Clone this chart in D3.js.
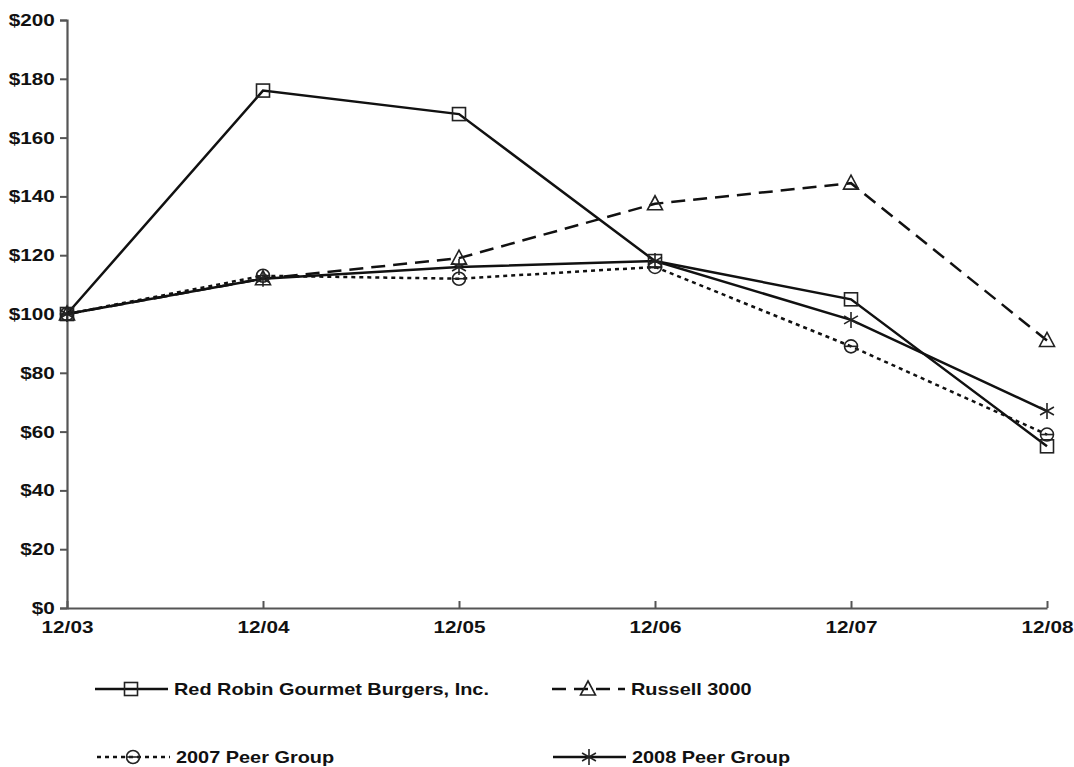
<!DOCTYPE html>
<html>
<head>
<meta charset="utf-8">
<script src="https://cdn.jsdelivr.net/npm/d3@7"></script>
<style>
  body { margin: 0; background: #fff; }
  svg text { font-family: "Liberation Sans", Arial, sans-serif; font-weight: bold; fill: #111; }
</style>
</head>
<body>
<svg id="chart"></svg>
<script>
const periods = ["12/03", "12/04", "12/05", "12/06", "12/07", "12/08"];
const redRobin = [100, 176, 168, 118, 105, 55];
const russell3000 = [100, 112, 119, 137.5, 144.5, 91];
const peer2007 = [100, 113, 112, 116, 89, 59];
const peer2008 = [100, 112, 116, 118, 98, 67];
const yTicks = [0, 20, 40, 60, 80, 100, 120, 140, 160, 180, 200];

const series = [
  { name: "Red Robin Gourmet Burgers, Inc.", values: redRobin, dash: null, marker: "square" },
  { name: "Russell 3000", values: russell3000, dash: "14,8", marker: "triangle" },
  { name: "2007 Peer Group", values: peer2007, dash: "4,4", marker: "circle" },
  { name: "2008 Peer Group", values: peer2008, dash: null, marker: "star" }
];

const W = 1074, H = 767;
const margin = { top: 20, right: 27, bottom: 159, left: 67 },
  width = W - margin.left - margin.right,
  height = H - margin.top - margin.bottom;

const svg = d3.select("#chart").attr("width", W).attr("height", H);
const g = svg.append("g").attr("transform", `translate(${margin.left},${margin.top})`);

const x = d3.scalePoint().domain(periods).range([0, width]);
const y = d3.scaleLinear().domain([0, 200]).range([height, 0]);

// y axis
const yAxis = g.append("g")
  .call(d3.axisLeft(y).tickValues(yTicks).tickFormat(d => "$" + d).tickSize(7).tickPadding(3));
yAxis.select(".domain").attr("stroke", "#555").attr("stroke-width", 2.2);
yAxis.selectAll(".tick line").attr("stroke", "#555").attr("stroke-width", 2);
yAxis.selectAll("text").style("font-size", "17px").attr("fill", "#111")
  .attr("transform", "scale(1.22,1)");

// x axis, ticks pointing inward
const xAxis = g.append("g")
  .attr("transform", `translate(0,${height})`)
  .call(d3.axisBottom(x).tickSize(-7).tickPadding(13).tickSizeOuter(0));
xAxis.select(".domain").attr("stroke", "#555").attr("stroke-width", 2.2);
xAxis.selectAll(".tick line").attr("stroke", "#555").attr("stroke-width", 2);
xAxis.selectAll("text").style("font-size", "17px").attr("fill", "#111")
  .attr("transform", "scale(1.22,1)");

const line = d3.line().x((d, i) => x(periods[i])).y(d => y(d));

function drawMarker(sel, type, cx, cy) {
  const s = sel.append("g").attr("transform", `translate(${cx},${cy})`)
    .attr("fill", "none").attr("stroke", "#222").attr("stroke-width", 1.6);
  if (type === "square") {
    s.append("rect").attr("x", -6.5).attr("y", -6.5).attr("width", 13).attr("height", 13);
  } else if (type === "triangle") {
    s.append("path").attr("d", "M0,-8L7.5,6L-7.5,6Z");
  } else if (type === "circle") {
    s.append("circle").attr("r", 6.5);
    s.append("line").attr("x1", -6.5).attr("x2", 6.5).attr("y1", 0).attr("y2", 0);
  } else if (type === "star") {
    [0, 60, 120].forEach(a => {
      const r = 8, t = (a + 90) * Math.PI / 180;
      s.append("line")
        .attr("x1", -r * Math.cos(t)).attr("y1", -r * Math.sin(t))
        .attr("x2", r * Math.cos(t)).attr("y2", r * Math.sin(t));
    });
  }
}

series.forEach(sr => {
  g.append("path")
    .datum(sr.values)
    .attr("fill", "none")
    .attr("stroke", "#111")
    .attr("stroke-width", 2.5)
    .attr("stroke-dasharray", sr.dash)
    .attr("d", line);
});

series.forEach(sr => {
  sr.values.forEach((v, i) => drawMarker(g, sr.marker, x(periods[i]), y(v)));
});

// legend
const legendPos = [
  { x: 95, y: 689 }, { x: 552, y: 689 },
  { x: 97, y: 757 }, { x: 553, y: 757 }
];
series.forEach((sr, i) => {
  const p = legendPos[i];
  const lg = svg.append("g");
  lg.append("line")
    .attr("x1", p.x).attr("x2", p.x + 73)
    .attr("y1", p.y).attr("y2", p.y)
    .attr("stroke", "#111").attr("stroke-width", 2.5)
    .attr("stroke-dasharray", sr.dash);
  drawMarker(lg, sr.marker, p.x + 36, p.y);
  lg.append("text")
    .attr("transform", `translate(${p.x + 79},${p.y + 6}) scale(1.17,1)`)
    .style("font-size", "17px")
    .text(sr.name);
});
</script>
</body>
</html>
